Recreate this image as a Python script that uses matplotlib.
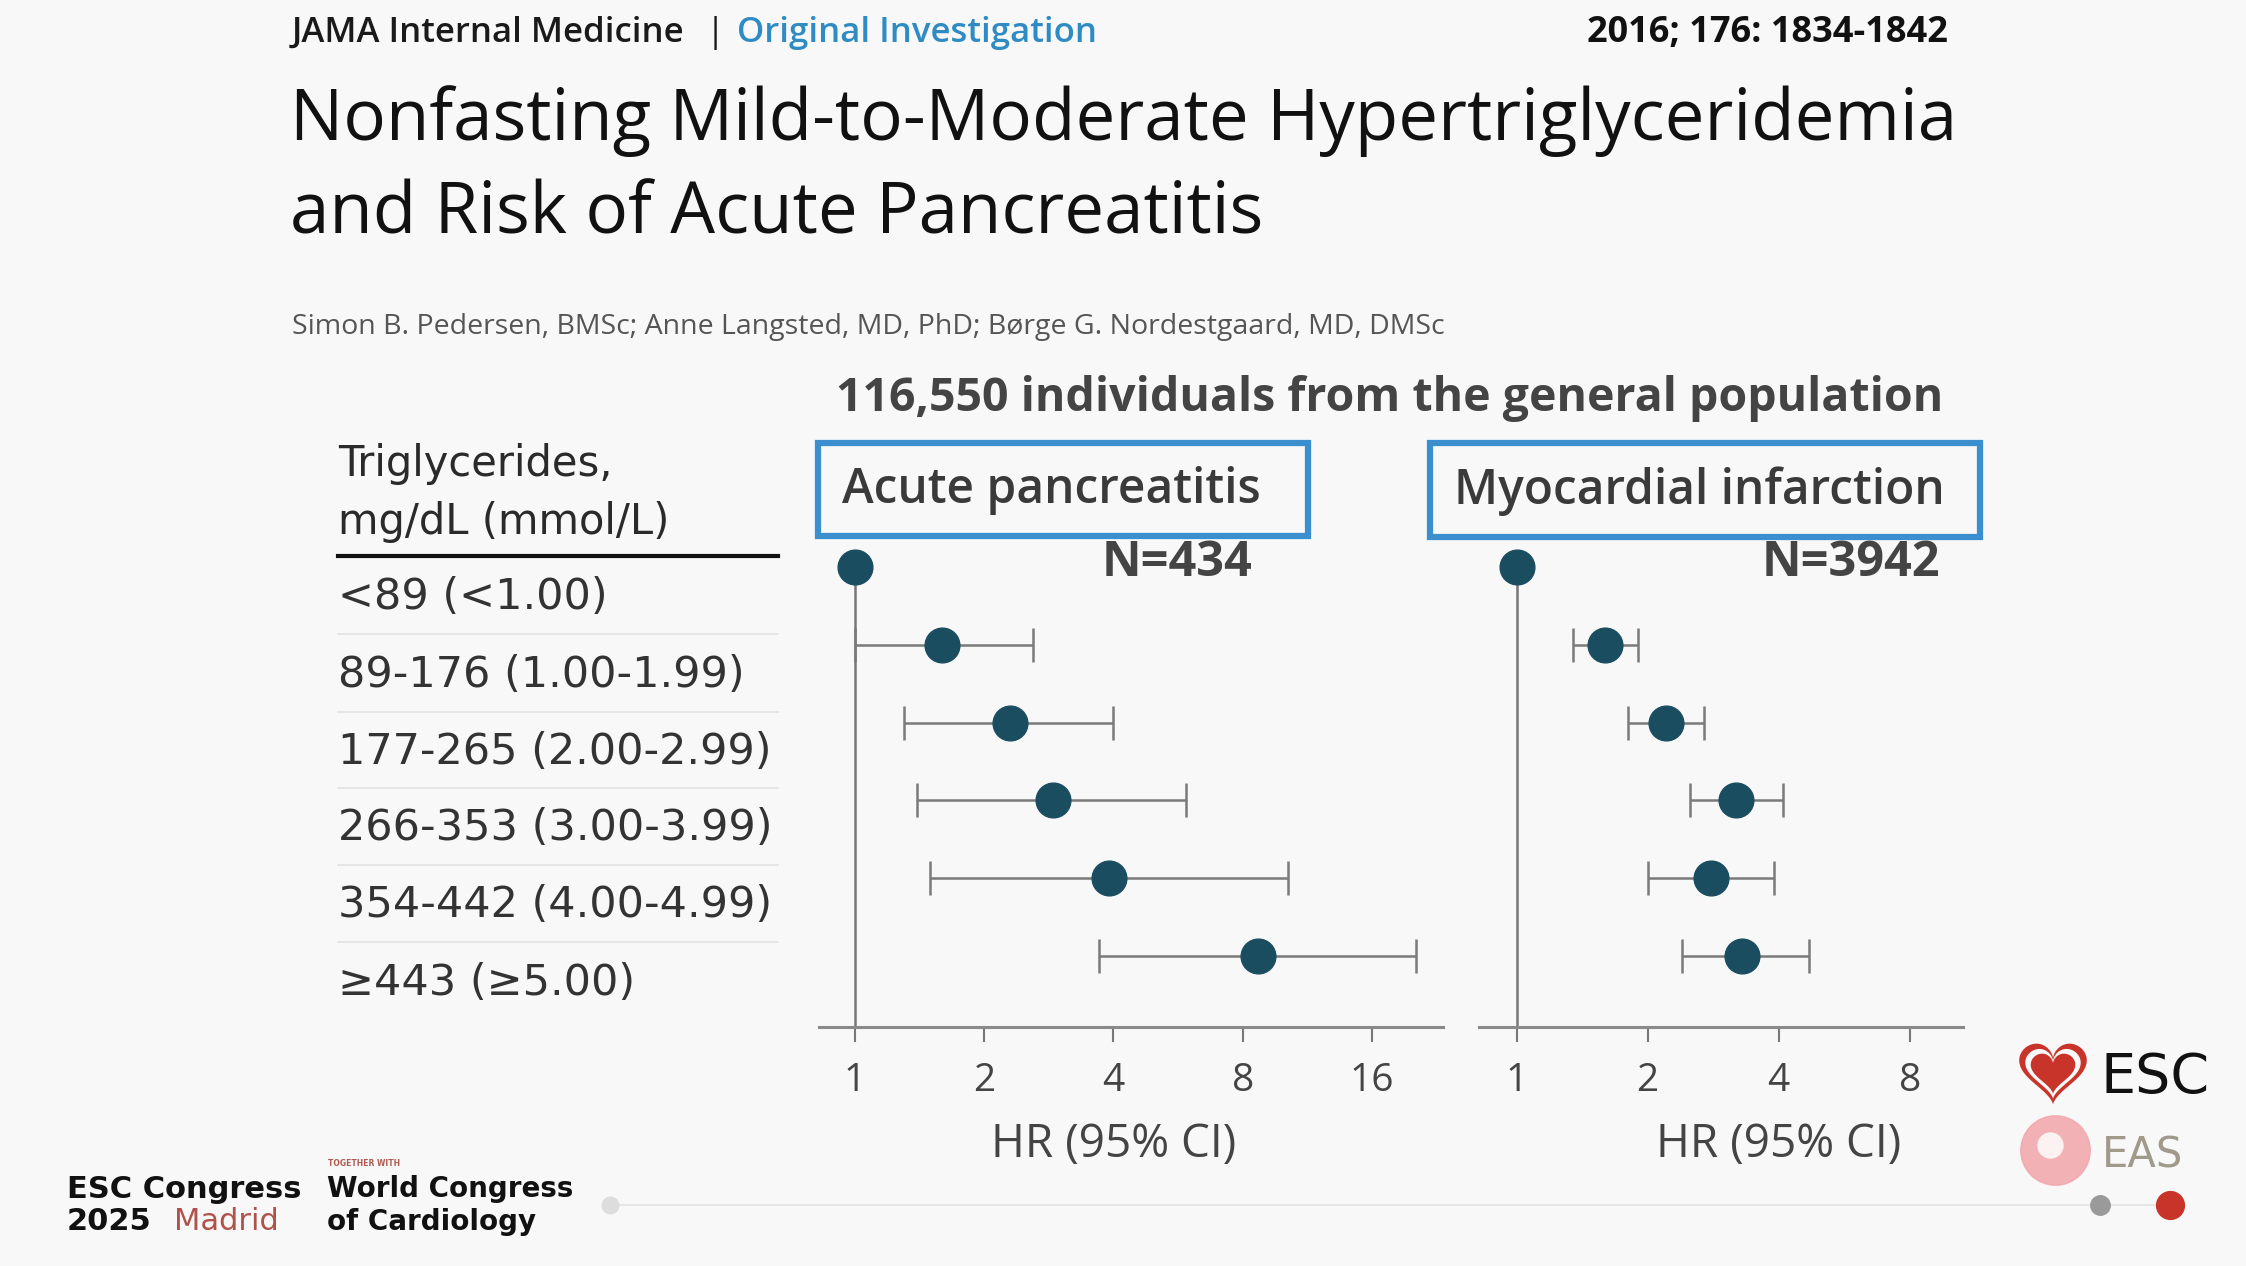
import numpy as np
import matplotlib
matplotlib.use('Agg')
import matplotlib.pyplot as plt
from matplotlib.patches import Rectangle, Polygon
from matplotlib.transforms import blended_transform_factory

# triglyceride categories
categories = ['<89 (<1.00)', '89-176 (1.00-1.99)', '177-265 (2.00-2.99)',
              '266-353 (3.00-3.99)', '354-442 (4.00-4.99)', '\u2265443 (\u22655.00)']

# acute pancreatitis, HR with 95% CI
ap_hr = [1.0, 1.6, 2.3, 2.9, 3.9, 8.7]
ap_lo = [1.0, 1.0, 1.3, 1.4, 1.5, 3.7]
ap_hi = [1.0, 2.6, 4.0, 5.9, 10.2, 20.3]

# myocardial infarction, HR with 95% CI
mi_hr = [1.0, 1.6, 2.2, 3.2, 2.8, 3.3]
mi_lo = [1.0, 1.35, 1.8, 2.5, 2.0, 2.4]
mi_hi = [1.0, 1.9, 2.7, 4.1, 3.9, 4.7]

ap_ticks = [1, 2, 4, 8, 16]
mi_ticks = [1, 2, 4, 8]

W, H = 2246, 1266
BG = '#f8f8f8'
DOT = '#1b4d61'
BLUE = '#3b8fcf'

fig = plt.figure(figsize=(W / 100, H / 100), dpi=100, facecolor=BG)


def fx(x):
    return x / W


def fy(y):
    return 1 - y / H


def txt(x, y, s, **kw):
    fig.text(fx(x), fy(y), s, **kw)


# header
txt(292, 33, 'JAMA Internal Medicine', fontsize=25, family='Open Sans', weight='semibold',
    color='#1a1a1a', va='center')
txt(706, 33, '|', fontsize=25, family='Open Sans', color='#1a1a1a', va='center')
txt(737, 33, 'Original Investigation', fontsize=25, family='Open Sans', weight='semibold',
    color='#2f8bc4', va='center')
txt(1948, 33, '2016; 176: 1834-1842', fontsize=26, family='Open Sans', weight='bold',
    color='#111111', va='center', ha='right')

txt(290, 121, 'Nonfasting Mild-to-Moderate Hypertriglyceridemia', fontsize=51,
    family='Open Sans', color='#111111', va='center')
txt(290, 215, 'and Risk of Acute Pancreatitis', fontsize=51,
    family='Open Sans', color='#111111', va='center')
txt(292, 327, 'Simon B. Pedersen, BMSc; Anne Langsted, MD, PhD; B\u00f8rge G. Nordestgaard, MD, DMSc',
    fontsize=20.5, family='Open Sans', color='#555555', va='center')

txt(1390, 399, '116,550 individuals from the general population', fontsize=33.5,
    family='Open Sans', weight='bold', color='#444444', va='center', ha='center')

# table of categories
txt(338, 464, 'Triglycerides,', fontsize=30, family='DejaVu Sans', color='#2a2a2a', va='center')
txt(338, 522, 'mg/dL (mmol/L)', fontsize=30, family='DejaVu Sans', color='#2a2a2a', va='center')
fig.add_artist(plt.Line2D([fx(338), fx(778)], [fy(556), fy(556)], color='#111111', lw=3))

row_y = [597, 675, 752, 828, 905, 983]
for i, lab in enumerate(categories):
    txt(338, row_y[i], lab, fontsize=31, family='DejaVu Sans', color='#333333', va='center')
    if i < len(categories) - 1:
        ysep = (row_y[i] + row_y[i + 1]) / 2 - 2
        fig.add_artist(plt.Line2D([fx(338), fx(778)], [fy(ysep), fy(ysep)],
                                  color='#e2e2e2', lw=1.2))


def panel(left, right, hr, lo, hi, ticks, xmin, xmax, title, box, nlabel, nx):
    top, bottom = 540, 1027
    ax = fig.add_axes([fx(left), fy(bottom), fx(right - left), (bottom - top) / H])
    ax.set_facecolor('none')
    ax.set_xscale('log', base=2)
    ax.set_xlim(xmin, xmax)
    ys = np.arange(len(hr))
    ax.set_ylim(5.92, -0.35)
    # reference line at HR = 1
    ax.plot([1, 1], [0, 5.92], color='#777777', lw=1.8, zorder=1, clip_on=False)
    hr = np.array(hr)
    err = np.array([hr - np.array(lo), np.array(hi) - hr])
    ax.errorbar(hr[1:], ys[1:], xerr=err[:, 1:], fmt='none', ecolor='#7a7a7a',
                elinewidth=1.8, capsize=12, capthick=1.8, zorder=2)
    ax.plot(hr, ys, 'o', color=DOT, ms=25, zorder=3, clip_on=False)
    for s in ['top', 'right', 'left']:
        ax.spines[s].set_visible(False)
    ax.spines['bottom'].set_color('#8a8a8a')
    ax.spines['bottom'].set_linewidth(2.2)
    ax.set_yticks([])
    ax.set_xticks(ticks)
    ax.set_xticklabels([str(t) for t in ticks])
    ax.xaxis.set_minor_locator(matplotlib.ticker.NullLocator())
    ax.tick_params(axis='x', direction='out', length=11, width=1.5, color='#777777',
                   labelsize=28, labelcolor='#444444', pad=14)
    for t in ax.get_xticklabels():
        t.set_family('Open Sans')
    # axis title centred under the tick for 4
    tr = blended_transform_factory(ax.transData, fig.transFigure)
    ax.text(4, fy(1145), 'HR (95% CI)', transform=tr, fontsize=33, family='Open Sans',
            color='#444444', ha='center', va='center')
    # title box
    bx0, by0, bx1, by1 = box
    fig.add_artist(Rectangle((fx(bx0), fy(by1)), fx(bx1 - bx0), (by1 - by0) / H,
                             transform=fig.transFigure, fill=False, ec=BLUE, lw=4.5))
    txt(bx0 + 24, (by0 + by1) / 2 + 1, title, fontsize=34.5, family='Open Sans',
        weight='semibold', color='#3a3a3a', va='center')
    txt(nx, 564, nlabel, fontsize=35, family='Open Sans', weight='bold',
        color='#444444', va='center', ha='right')
    return ax


panel(819, 1443, ap_hr, ap_lo, ap_hi, ap_ticks, 0.826, 23.4, 'Acute pancreatitis',
      (818, 443, 1308, 536), 'N=434', 1252)
panel(1479, 1963, mi_hr, mi_lo, mi_hi, mi_ticks, 0.82, 10.6, 'Myocardial infarction',
      (1430, 443, 1980, 537), 'N=3942', 1940)

# footer
txt(67, 1189, 'ESC Congress', fontsize=22, family='DejaVu Sans', weight='bold',
    color='#111111', va='center')
txt(67, 1222, '2025', fontsize=22, family='DejaVu Sans', weight='bold',
    color='#111111', va='center')
txt(174, 1222, 'Madrid', fontsize=22, family='DejaVu Sans', color='#b0524a', va='center')
txt(328, 1164, 'TOGETHER WITH', fontsize=5.5, family='DejaVu Sans', weight='bold',
    color='#b05a50', va='center')
txt(327, 1189, 'World Congress', fontsize=20, family='DejaVu Sans', weight='bold',
    color='#111111', va='center')
txt(327, 1222, 'of Cardiology', fontsize=20, family='DejaVu Sans', weight='bold',
    color='#111111', va='center')

fig.add_artist(plt.Line2D([fx(610), fx(2170)], [fy(1205), fy(1205)], color='#e6e6e6', lw=1.5))
fig.add_artist(plt.Line2D([fx(610)], [fy(1205)], marker='o', ms=12, color='#dddddd'))
fig.add_artist(plt.Line2D([fx(2100)], [fy(1205)], marker='o', ms=14, color='#9a9a9a'))
fig.add_artist(plt.Line2D([fx(2170)], [fy(1205)], marker='o', ms=20, color='#c8342a'))

# society logos (ESC heart, EAS circle)
lg = fig.add_axes([fx(2015), fy(1110), fx(76), 76 / H])
lg.set_xlim(-18, 18)
lg.set_ylim(-18, 15)
lg.set_aspect('equal')
lg.axis('off')
t = np.linspace(0, 2 * np.pi, 200)
hx = 16 * np.sin(t) ** 3
hy = 13 * np.cos(t) - 5 * np.cos(2 * t) - 2 * np.cos(3 * t) - np.cos(4 * t)
for k, c in [(1.0, '#c8342a'), (0.82, BG), (0.66, '#c8342a')]:
    lg.add_patch(Polygon(np.c_[hx * k, hy * k - (1 - k) * 2], closed=True, fc=c, ec='none'))

fig.add_artist(plt.Line2D([fx(2055)], [fy(1150)], marker='o', ms=50, color='#f2a5aa',
                          alpha=0.85))
fig.add_artist(plt.Line2D([fx(2050)], [fy(1145)], marker='o', ms=18, color='#fdf2f2'))
txt(2100, 1078, 'ESC', fontsize=40, family='DejaVu Sans', color='#111111', va='center')
txt(2102, 1155, 'EAS', fontsize=30, family='DejaVu Sans', color='#a09a8a', va='center')

fig.savefig('out.png', dpi=100, facecolor=BG)
